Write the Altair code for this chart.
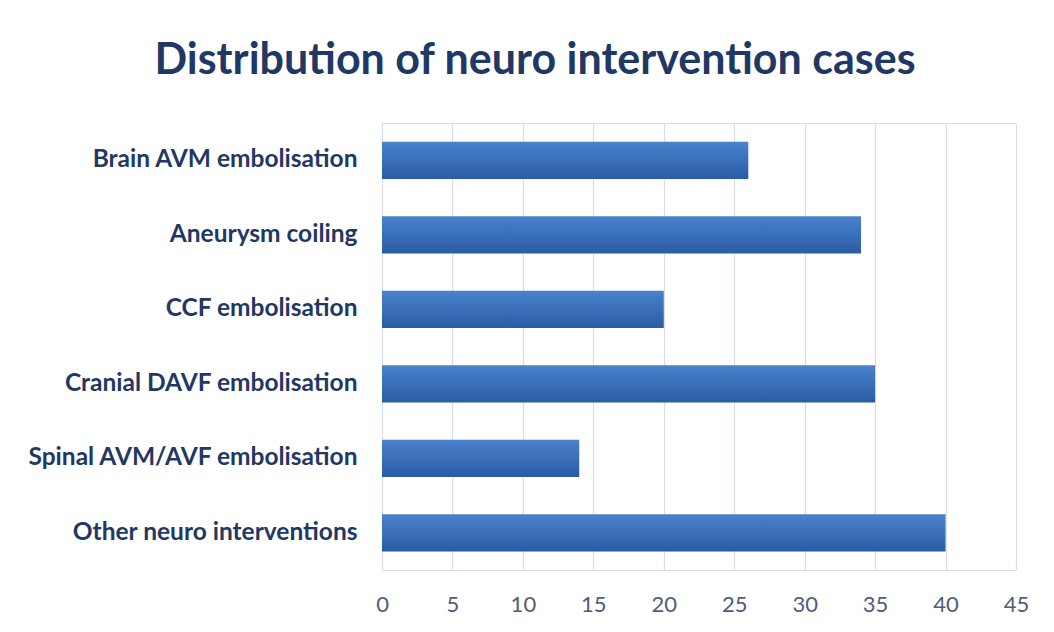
import altair as alt
import pandas as pd

categories = [
    "Brain AVM embolisation",
    "Aneurysm coiling",
    "CCF embolisation",
    "Cranial DAVF embolisation",
    "Spinal AVM/AVF embolisation",
    "Other neuro interventions",
]
cases = [26, 34, 20, 35, 14, 40]

df = pd.DataFrame({"category": categories, "cases": cases})

grad = alt.Gradient(
    gradient="linear",
    stops=[
        alt.GradientStop(color="#4b82cc", offset=0),
        alt.GradientStop(color="#3a6fba", offset=0.5),
        alt.GradientStop(color="#2b5ca3", offset=1),
    ],
    x1=0, x2=0, y1=0, y2=1,
)

bars = alt.Chart(df).mark_bar(fill=grad).encode(
    x=alt.X(
        "cases:Q",
        scale=alt.Scale(domain=[0, 45], nice=False),
        axis=alt.Axis(
            values=list(range(0, 50, 5)),
            title=None,
            domain=False,
            ticks=False,
            labelFlush=False,
            labelFontSize=22,
            labelColor="#4f5d7a",
            labelFont="Lato",
            labelPadding=24,
            gridColor="#d9dfea",
            gridWidth=1.2,
        ),
    ),
    y=alt.Y(
        "category:N",
        sort=categories,
        scale=alt.Scale(paddingInner=0.5, paddingOuter=0.25),
        axis=alt.Axis(
            title=None,
            domain=False,
            ticks=False,
            grid=False,
            labelFontSize=24.5,
            labelFontWeight="bold",
            labelColor="#1f3864",
            labelFont="Lato",
            labelPadding=25,
            labelLimit=400,
        ),
    ),
)

chart = bars.properties(
    width=634,
    height=447,
    autosize=alt.AutoSizeParams(type="none"),
    padding={"left": 374, "top": 115, "right": 30, "bottom": 50},
    title=alt.TitleParams(
        "Distribution of neuro intervention cases",
        font="Lato",
        fontSize=43,
        fontWeight="bold",
        color="#1f3864",
        anchor="middle",
        frame="group",
        dx=-164,
        offset=40,
    ),
).configure_view(stroke=None).configure(background="white")

chart.save("out.html", embed_options={"renderer": "svg", "actions": False})
